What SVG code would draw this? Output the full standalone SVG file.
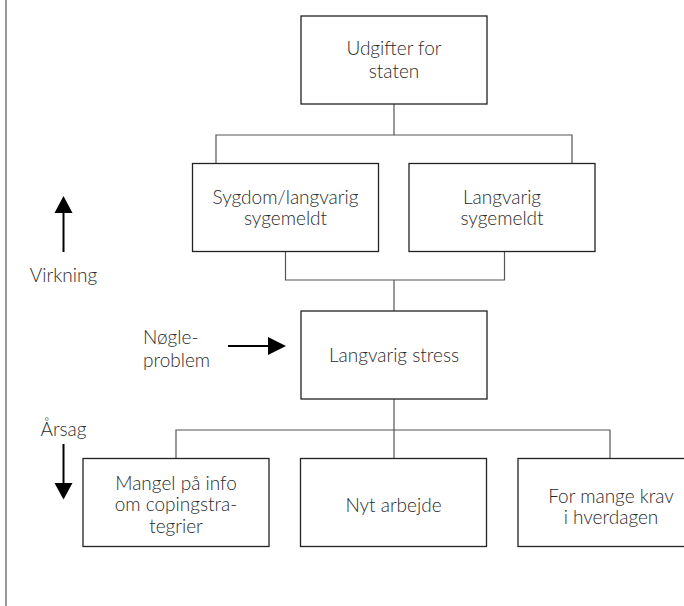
<svg xmlns="http://www.w3.org/2000/svg" width="684" height="606" viewBox="0 0 684 606">
<style>
.box{fill:#fff;stroke:#222;stroke-width:1.3}
.con{fill:none;stroke:#555;stroke-width:1.2}
.t{font-family:Lato,"Open Sans","Liberation Sans",sans-serif;font-weight:300;font-size:19px;fill:#2a2a2a;text-anchor:middle}
.lbl{font-family:Lato,"Open Sans","Liberation Sans",sans-serif;font-weight:300;font-size:19px;fill:#2a2a2a}
.arr{stroke:#000;stroke-width:2;fill:none}
.head{fill:#000}
</style>
<line x1="6" y1="0" x2="6" y2="606" stroke="#999" stroke-width="2"/>
<g id="connectors">
<path class="con" d="M394 104V135M216 163V135H572V163"/>
<path class="con" d="M285.5 252V280H504.5V252M394 280V311"/>
<path class="con" d="M394 399V430M176 458V430H610V458M394 430V458"/>
</g>
<g id="n-udgifter">
<rect class="box" x="301" y="16" width="186" height="88"/>
<text class="t" x="394" y="55">Udgifter for</text>
<text class="t" x="394" y="77.5">staten</text>
</g>
<g id="n-sygdom">
<rect class="box" x="192.5" y="163.5" width="186" height="88"/>
<text class="t" x="285.5" y="203.5">Sygdom/langvarig</text>
<text class="t" x="285.5" y="225">sygemeldt</text>
</g>
<g id="n-langvarig-sygemeldt">
<rect class="box" x="409" y="163.5" width="186" height="88"/>
<text class="t" x="502" y="203.5">Langvarig</text>
<text class="t" x="502" y="225">sygemeldt</text>
</g>
<g id="n-stress">
<rect class="box" x="301" y="311" width="186" height="88"/>
<text class="t" x="394" y="361.5">Langvarig stress</text>
</g>
<g id="n-mangel">
<rect class="box" x="83" y="458.5" width="186" height="88"/>
<text class="t" x="176" y="490">Mangel på info</text>
<text class="t" x="176" y="511">om copingstra-</text>
<text class="t" x="176" y="533">tegrier</text>
</g>
<g id="n-nyt">
<rect class="box" x="300.5" y="458.5" width="186" height="88"/>
<text class="t" x="393.5" y="512">Nyt arbejde</text>
</g>
<g id="n-krav">
<rect class="box" x="518" y="458.5" width="186" height="88"/>
<text class="t" x="611" y="502.5">For mange krav</text>
<text class="t" x="611" y="523.5">i hverdagen</text>
</g>
<g id="legend">
<line class="arr" x1="63.5" y1="252" x2="63.5" y2="210"/>
<polygon class="head" points="63.5,196 54.5,213 72.5,213"/>
<text class="lbl" x="63.5" y="282" text-anchor="middle">Virkning</text>
<text class="lbl" x="143" y="344">Nøgle-</text>
<text class="lbl" x="143" y="367">problem</text>
<line class="arr" x1="228" y1="346" x2="272" y2="346"/>
<polygon class="head" points="286,346 268,337 268,355"/>
<text class="lbl" x="63.5" y="436" text-anchor="middle">Årsag</text>
<line class="arr" x1="63.5" y1="444" x2="63.5" y2="486"/>
<polygon class="head" points="63.5,499.5 54.5,483 72.5,483"/>
</g>
</svg>
